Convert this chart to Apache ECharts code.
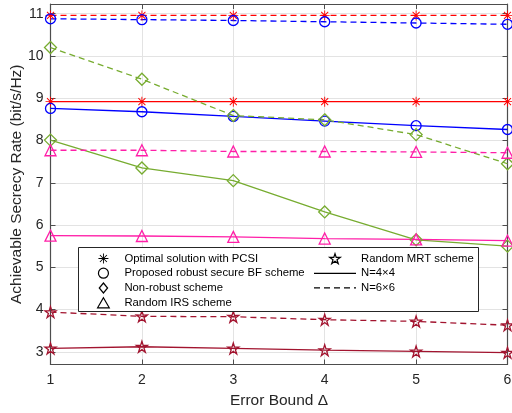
<!DOCTYPE html>
<html>
<head>
<meta charset="utf-8">
<script src="https://cdn.jsdelivr.net/npm/echarts@6/dist/echarts.min.js"></script>
<style>
html, body { margin: 0; padding: 0; background: #fff; }
#main { width: 512px; height: 413px; }
</style>
</head>
<body>
<div id="main"></div>
<script>
var errorBound = [1, 2, 3, 4, 5, 6];
var yTicks = [3, 4, 5, 6, 7, 8, 9, 10, 11];

var optimal4 = [8.92, 8.92, 8.92, 8.92, 8.92, 8.92];
var optimal6 = [10.96, 10.96, 10.96, 10.96, 10.96, 10.96];
var robust4 = [8.76, 8.68, 8.57, 8.46, 8.35, 8.26];
var robust6 = [10.88, 10.86, 10.84, 10.81, 10.78, 10.75];
var nonRobust4 = [8.01, 7.35, 7.05, 6.31, 5.65, 5.50];
var nonRobust6 = [10.20, 9.45, 8.59, 8.49, 8.14, 7.45];
var randomIrs4 = [5.75, 5.74, 5.72, 5.68, 5.66, 5.63];
var randomIrs6 = [7.77, 7.77, 7.74, 7.74, 7.73, 7.71];
var randomMrt4 = [3.08, 3.12, 3.08, 3.04, 3.01, 2.98];
var randomMrt6 = [3.94, 3.84, 3.83, 3.76, 3.72, 3.63];

var FONT = 'Liberation Sans, Arial, Helvetica, sans-serif';
var AXIS_COLOR = '#262626';
var AXIS_LINE = '#4d4d4d';

var asteriskPath = 'path://M-9 -100L9 -100L9 100L-9 100Z M-100 -9L100 -9L100 9L-100 9Z M-64 -77L77 64L64 77L-77 -64Z M-77 64L64 -77L77 -64L-64 77Z';
var starPath = 'path://M0 -100L22.3 -30.7L95.1 -30.9L36.1 11.7L58.8 80.9L0 38L-58.8 80.9L-36.1 11.7L-95.1 -30.9L-22.3 -30.7Z';
var diamondPath = 'path://M0 -60L50 0L0 60L-50 0Z';
var trianglePath = 'path://M0 -50L56 46L-56 46Z';
var solidPath = 'path://M0 0L42 0L42 1.2L0 1.2Z';
var dashPath = 'path://M0 0L6 0L6 1.2L0 1.2Z M10 0L16 0L16 1.2L10 1.2Z M20 0L26 0L26 1.2L20 1.2Z M30 0L36 0L36 1.2L30 1.2Z M40 0L42 0L42 1.2L40 1.2Z';

function pairs(values) {
    return errorBound.map(function (x, i) { return [x, values[i]]; });
}

function makeSeries(name, values, color, symbol, size, dashed, filled) {
    return {
        name: name,
        type: 'line',
        data: pairs(values),
        symbol: symbol,
        symbolSize: size,
        showAllSymbol: true,
        animation: false,
        lineStyle: {
            color: color,
            width: 1.3,
            type: dashed ? [6, 4] : 'solid'
        },
        itemStyle: {
            color: filled ? color : 'rgba(0,0,0,0)',
            borderColor: color,
            borderWidth: filled ? 0 : 1.3
        },
        emphasis: { disabled: true },
        z: 3
    };
}

// empty series, only there to feed the legend
function legendSeries(name) {
    return { name: name, type: 'line', data: [] };
}

function legendItem(name, icon, filled) {
    return {
        name: name,
        icon: icon,
        itemStyle: {
            color: filled ? '#000' : 'rgba(0,0,0,0)',
            borderColor: '#000',
            borderWidth: filled ? 0 : 1.2
        }
    };
}

var RED = '#ff0000';
var BLUE = '#0000ff';
var GREEN = '#77ac30';
var PINK = '#ff1fa8';
var WINE = '#a2142f';

var legendNames = ['Optimal solution with PCSI', 'Proposed robust secure BF scheme', 'Non-robust scheme',
    'Random IRS scheme', 'Random MRT scheme', 'N=4\u00d74', 'N=6\u00d76'];

var series = [
    makeSeries('opt4', optimal4, RED, asteriskPath, 10, false, true),
    makeSeries('opt6', optimal6, RED, asteriskPath, 10, true, true),
    makeSeries('rob4', robust4, BLUE, 'circle', 10, false, false),
    makeSeries('rob6', robust6, BLUE, 'circle', 10, true, false),
    makeSeries('non4', nonRobust4, GREEN, diamondPath, 12, false, false),
    makeSeries('non6', nonRobust6, GREEN, diamondPath, 12, true, false),
    makeSeries('irs4', randomIrs4, PINK, trianglePath, 11, false, false),
    makeSeries('irs6', randomIrs6, PINK, trianglePath, 11, true, false),
    makeSeries('mrt4', randomMrt4, WINE, starPath, 11, false, false),
    makeSeries('mrt6', randomMrt6, WINE, starPath, 11, true, false)
].concat(legendNames.map(legendSeries));

var legendText = { fontFamily: FONT, fontSize: 11.3, color: '#000' };

var chart = echarts.init(document.getElementById('main'));
var option = {
    backgroundColor: '#fff',
    animation: false,
    grid: { left: 50.5, right: 4.5, top: 4, bottom: 48.5, containLabel: false, outerBoundsMode: 'none' },
    graphic: [{
        type: 'rect',
        left: 78,
        top: 247,
        shape: { width: 400, height: 64 },
        style: { fill: '#fff', stroke: '#262626', lineWidth: 1 },
        z: 10
    }],
    legend: [{
        orient: 'vertical',
        left: 92,
        top: 248,
        itemWidth: 32,
        itemHeight: 10,
        itemGap: 3.6,
        textStyle: legendText,
        selectedMode: false,
        z: 20,
        data: [
            legendItem(legendNames[0], asteriskPath, true),
            legendItem(legendNames[1], 'circle', false),
            legendItem(legendNames[2], diamondPath, false),
            legendItem(legendNames[3], trianglePath, false)
        ]
    }, {
        orient: 'vertical',
        left: 309,
        top: 248,
        itemWidth: 42,
        itemHeight: 10,
        itemGap: 3.6,
        textStyle: legendText,
        selectedMode: false,
        z: 20,
        data: [
            legendItem(legendNames[4], starPath, false),
            legendItem(legendNames[5], solidPath, true),
            legendItem(legendNames[6], dashPath, true)
        ]
    }],
    xAxis: [{
        type: 'value',
        min: 1,
        max: 6,
        interval: 1,
        name: 'Error Bound \u0394',
        nameLocation: 'middle',
        nameGap: 28,
        nameTextStyle: { fontFamily: FONT, fontSize: 15.5, color: AXIS_COLOR },
        axisLine: { lineStyle: { color: AXIS_LINE, width: 1.2 } },
        axisTick: { inside: true, length: 5, lineStyle: { color: AXIS_LINE } },
        axisLabel: { fontFamily: FONT, fontSize: 14, color: AXIS_COLOR, margin: 9 },
        splitLine: { show: true, lineStyle: { color: '#e3e3e3', width: 1 } }
    }, {
        type: 'value',
        position: 'top',
        min: 1,
        max: 6,
        interval: 1,
        axisLine: { show: true, onZero: false, lineStyle: { color: AXIS_LINE, width: 1.2 } },
        axisTick: { inside: true, length: 5, lineStyle: { color: AXIS_LINE } },
        axisLabel: { show: false },
        splitLine: { show: false }
    }],
    yAxis: [{
        type: 'value',
        min: 2.70,
        max: 11.23,
        splitNumber: 8,
        name: 'Achievable Secrecy Rate (bit/s/Hz)',
        nameLocation: 'middle',
        nameGap: 26,
        nameMoveOverlap: false,
        nameTextStyle: { fontFamily: FONT, fontSize: 15.5, color: AXIS_COLOR },
        axisLine: { show: true, onZero: false, lineStyle: { color: AXIS_LINE, width: 1.2 } },
        axisTick: { inside: true, length: 5, lineStyle: { color: AXIS_LINE } },
        axisLabel: {
            fontFamily: FONT, fontSize: 14, color: AXIS_COLOR, margin: 7,
            formatter: function (v) {
                var r = Math.round(v);
                return (Math.abs(v - r) < 1e-6 && yTicks.indexOf(r) >= 0) ? String(r) : '';
            }
        },
        splitLine: { show: true, lineStyle: { color: '#e3e3e3', width: 1 } }
    }, {
        type: 'value',
        position: 'right',
        min: 2.70,
        max: 11.23,
        splitNumber: 8,
        axisLine: { show: true, onZero: false, lineStyle: { color: AXIS_LINE, width: 1.2 } },
        axisTick: { inside: true, length: 5, lineStyle: { color: AXIS_LINE } },
        axisLabel: { show: false },
        splitLine: { show: false }
    }],
    series: series
};
chart.setOption(option);
</script>
</body>
</html>
